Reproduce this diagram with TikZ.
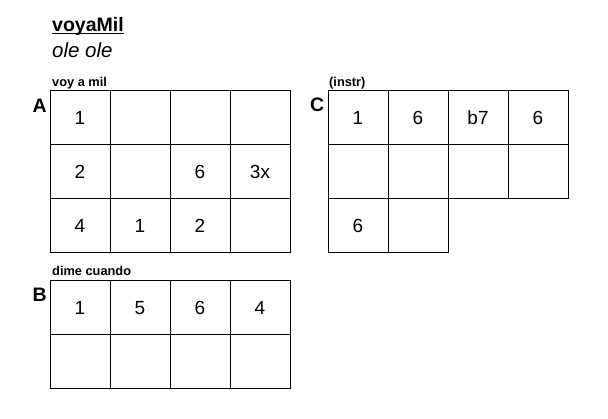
\documentclass[tikz,border=0pt]{standalone}
\usepackage{fontspec}
\setmainfont{Liberation Sans}
\begin{document}
\begin{tikzpicture}[x=1pt,y=-1pt,
  cell/.style={draw, line width=1pt, minimum width=60pt, minimum height=54pt, inner sep=0pt, text height=13.6pt, text depth=0pt, font=\fontsize{19}{22}\selectfont},
  sectlabel/.style={anchor=base west, inner sep=0pt, font=\fontsize{19.5}{22}\selectfont\bfseries},
  caption/.style={anchor=base west, inner sep=0pt, font=\fontsize{12.8}{15}\selectfont\bfseries},
  titletext/.style={anchor=base west, inner sep=0pt}]
\useasboundingbox (0,0) rectangle (608,419);
% title
\node[titletext, font=\fontsize{19.5}{22}\selectfont\bfseries] (title) at (52,32) {voyaMil};
\draw[line width=1.3pt] ([yshift=-1.6pt]title.base west) -- ([yshift=-1.6pt]title.base east);
\node[titletext, font=\fontsize{20.5}{24}\selectfont\itshape] (sub) at (52,58) {ole ole};
% section A
\node[caption] (capA) at (52,87) {voy a mil};
\node[sectlabel] (labA) at (32.5,113) {A};
\foreach \t [count=\i from 0] in {1,,,,2,,6,3x,4,1,2,} {
  \pgfmathtruncatemacro{\r}{int(\i/4)}
  \pgfmathtruncatemacro{\c}{mod(\i,4)}
  \node[cell] (a-\r-\c) at (80+60*\c,118+54*\r) {\t};
}
% section C
\node[caption] (capC) at (329,87) {(instr)};
\node[sectlabel] (labC) at (310,112) {C};
\foreach \t [count=\i from 0] in {1,6,b7,6,,,,} {
  \pgfmathtruncatemacro{\r}{int(\i/4)}
  \pgfmathtruncatemacro{\c}{mod(\i,4)}
  \node[cell] (c-\r-\c) at (358+60*\c,118+54*\r) {\t};
}
\node[cell] (c-2-0) at (358,226) {6};
\node[cell] (c-2-1) at (418,226) {};
% section B
\node[caption] (capB) at (52,275.5) {dime cuando};
\node[sectlabel] (labB) at (32.5,302) {B};
\foreach \t [count=\i from 0] in {1,5,6,4,,,,} {
  \pgfmathtruncatemacro{\r}{int(\i/4)}
  \pgfmathtruncatemacro{\c}{mod(\i,4)}
  \node[cell] (b-\r-\c) at (80+60*\c,307.5+54*\r) {\t};
}
\end{tikzpicture}
\end{document}
